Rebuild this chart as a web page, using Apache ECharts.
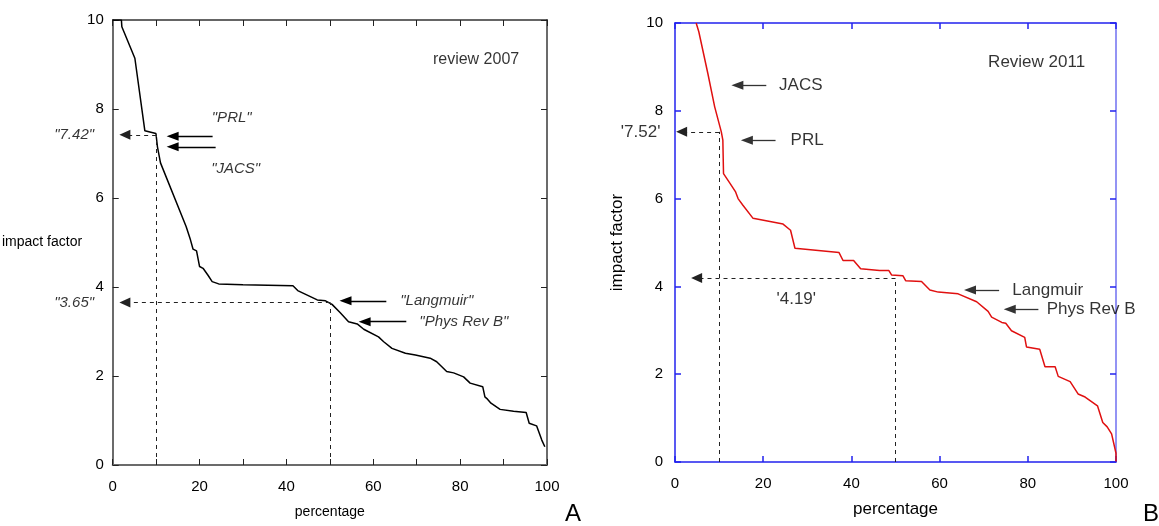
<!DOCTYPE html>
<html>
<head>
<meta charset="utf-8">
<script src="https://cdn.jsdelivr.net/npm/echarts@6/dist/echarts.min.js"></script>
<style>
  html, body { margin: 0; padding: 0; background: #fff; }
  #chart { width: 1159px; height: 526px; }
</style>
</head>
<body>
<div id="chart"></div>
<script>
// Review 2007: cumulative share of journals (percentage) against impact factor
const pct2007 = [0, 2.0, 2.1, 5.1, 7.4, 9.95, 10.3, 11.0, 16.9, 17.9, 18.5, 19.3, 20.0, 20.8, 21.9, 22.9, 24.4, 30.0,
  41.5, 42.6, 47.1, 49.0, 50.5, 52.4, 54.3, 56.3, 57.8, 61.2, 62.4, 64.3, 67.4, 69.7, 73.1, 74.6, 76.9, 78.5,
  80.8, 82.3, 85.2, 85.7, 86.3, 87.1, 89.2, 92.3, 95.2, 95.9, 97.6, 98.8, 99.5];
const if2007 = [10.0, 10.0, 9.85, 9.14, 7.51, 7.45, 7.15, 6.79, 5.36, 5.06, 4.85, 4.81, 4.46, 4.42, 4.27, 4.12, 4.07, 4.05,
  4.03, 3.92, 3.71, 3.69, 3.61, 3.42, 3.22, 3.17, 3.05, 2.88, 2.77, 2.62, 2.51, 2.47, 2.40, 2.32, 2.10, 2.07,
  1.98, 1.84, 1.76, 1.53, 1.48, 1.39, 1.25, 1.21, 1.18, 0.94, 0.88, 0.56, 0.41];

// Review 2011
const pct2011 = [4.8, 5.4, 7.45, 9.0, 10.5, 10.85, 11.0, 12.4, 13.7, 14.3, 15.4, 17.7, 24.5, 26.2, 27.2, 37.2, 38.1,
  40.5, 42.1, 46.4, 48.5, 49.1, 51.7, 52.3, 55.9, 57.8, 59.7, 64.2, 68.4, 71.0, 71.8, 74.1, 75.0, 76.3, 79.3,
  79.7, 82.7, 83.9, 86.2, 86.9, 89.6, 91.4, 93.0, 95.8, 97.0, 98.0, 99.0, 100, 100];
const if2011 = [10.0, 9.80, 8.85, 8.09, 7.52, 7.33, 6.57, 6.36, 6.16, 6.0, 5.85, 5.55, 5.42, 5.28, 4.87, 4.77, 4.59,
  4.59, 4.40, 4.36, 4.36, 4.26, 4.24, 4.13, 4.11, 3.92, 3.87, 3.83, 3.65, 3.43, 3.30, 3.18, 3.16, 2.99, 2.84,
  2.62, 2.57, 2.17, 2.17, 1.95, 1.83, 1.55, 1.48, 1.28, 0.90, 0.80, 0.64, 0.20, 0.01];

// Reference readings: percentile position and impact factor
const guidePct2007 = [10, 50];
const guideIF2007 = [7.42, 3.65];
const guideText2007 = ['"7.42"', '"3.65"'];
const guidePct2011 = [10, 50];
const guideIF2011 = [7.52, 4.19];
const guideText2011 = ["'7.52'", "'4.19'"];

// Journals marked on each curve
const journals2007 = ['"PRL"', '"JACS"', '"Langmuir"', '"Phys Rev B"'];
const journalIF2007 = [7.39, 7.15, 3.69, 3.22];
const journals2011 = ['JACS', 'PRL', 'Langmuir', 'Phys Rev B'];
const journalIF2011 = [8.58, 7.33, 3.92, 3.48];

const FONT = '"Liberation Sans", Arial, Helvetica, sans-serif';

// arrow geometry along the percentage axis: [head centre, tail]
const arrowSpan2007 = [[13.8, 23.0], [13.8, 23.7], [53.6, 63.0], [58.0, 67.6]];
const arrowSpan2011 = [[14.15, 20.7], [16.3, 22.8], [66.9, 73.5], [75.9, 82.4]];
const guideHead2007 = [2.8, 2.8];
const guideHead2011 = [1.5, 4.9];

function curve(xs, ys) { return xs.map((x, i) => [x, ys[i]]); }

function markLines(gPct, gIF, gHead, jIF, spans, arrowColor, headSize) {
  const dashed = { type: [4, 4], color: '#222', width: 1 };
  const out = [];
  gPct.forEach((p, i) => {
    out.push([{ coord: [p, 0], lineStyle: dashed }, { coord: [p, gIF[i]], lineStyle: dashed }]);
    out.push([{ coord: [p, gIF[i]], lineStyle: dashed },
              { coord: [gHead[i], gIF[i]], symbol: 'triangle', symbolSize: [10, 11], lineStyle: dashed }]);
  });
  const solid = { type: 'solid', color: arrowColor, width: 1.3 };
  jIF.forEach((v, i) => {
    out.push([{ coord: [spans[i][1], v], lineStyle: solid },
              { coord: [spans[i][0], v], symbol: 'triangle', symbolSize: headSize, lineStyle: solid }]);
  });
  return out;
}

function textPoint(x, y, text, align, size, italic) {
  return {
    value: [x, y],
    label: {
      show: true, formatter: text, position: 'inside', align: align, verticalAlign: 'middle',
      fontSize: size, fontStyle: italic ? 'italic' : 'normal', color: '#000', fontFamily: FONT
    }
  };
}

const texts2007 = [
  textPoint(-4.3, guideIF2007[0], guideText2007[0], 'right', 15, true),
  textPoint(-4.3, guideIF2007[1], guideText2007[1], 'right', 15, true),
  textPoint(27.4, 7.80, journals2007[0], 'center', 15, true),
  textPoint(28.3, 6.65, journals2007[1], 'center', 15, true),
  textPoint(66.2, journalIF2007[2], journals2007[2], 'left', 15, true),
  textPoint(70.6, journalIF2007[3], journals2007[3], 'left', 15, true),
  textPoint(93.6, 9.10, 'review 2007', 'right', 16, false)
];
const texts2011 = [
  textPoint(-3.3, guideIF2011[0], guideText2011[0], 'right', 17, false),
  textPoint(27.5, 3.71, guideText2011[1], 'center', 17, false),
  textPoint(23.6, journalIF2011[0], journals2011[0], 'left', 17, false),
  textPoint(26.2, journalIF2011[1], journals2011[1], 'left', 17, false),
  textPoint(76.5, journalIF2011[2], journals2011[2], 'left', 17, false),
  textPoint(84.3, journalIF2011[3], journals2011[3], 'left', 17, false),
  textPoint(93.0, 9.11, 'Review 2011', 'right', 17, false)
];

const leftAxisLine = { onZero: false, lineStyle: { color: '#6b6b6b', width: 2 } };
const rightAxisLine = { onZero: false, lineStyle: { color: '#2222ee', width: 1.5 } };
const leftTick = { show: true, inside: true, length: 6, lineStyle: { color: '#222', width: 1 } };
const rightTick = { show: true, inside: true, length: 6, lineStyle: { color: '#2222ee', width: 1.5 } };

const chart = echarts.init(document.getElementById('chart'), null, { renderer: 'canvas' });
chart.setOption({
  animation: false,
  backgroundColor: '#fff',
  grid: [
    { left: 112, top: 20, width: 435, height: 445 },
    { left: 675, top: 23, width: 441, height: 439 }
  ],
  xAxis: [
    { gridIndex: 0, type: 'value', min: 0, max: 100, interval: 10, position: 'bottom',
      axisLine: leftAxisLine, axisTick: leftTick, splitLine: { show: false },
      axisLabel: { margin: 14, fontSize: 15, color: '#000', fontFamily: FONT,
        formatter: v => (v % 20 === 0 ? String(v) : '') },
      name: 'percentage', nameLocation: 'middle', nameGap: 40,
      nameTextStyle: { fontSize: 14, color: '#000', fontFamily: FONT } },
    { gridIndex: 0, type: 'value', min: 0, max: 100, interval: 10, position: 'top',
      axisLine: { onZero: false, lineStyle: { color: '#333', width: 1.5 } }, axisTick: leftTick,
      axisLabel: { show: false }, splitLine: { show: false } },
    { gridIndex: 1, type: 'value', min: 0, max: 100, interval: 20, position: 'bottom',
      axisLine: rightAxisLine, axisTick: rightTick, splitLine: { show: false },
      axisLabel: { margin: 14, fontSize: 15, color: '#000', fontFamily: FONT },
      name: 'percentage', nameLocation: 'middle', nameGap: 39,
      nameTextStyle: { fontSize: 17, color: '#000', fontFamily: FONT } },
    { gridIndex: 1, type: 'value', min: 0, max: 100, interval: 20, position: 'top',
      axisLine: rightAxisLine, axisTick: rightTick,
      axisLabel: { show: false }, splitLine: { show: false } }
  ],
  yAxis: [
    { gridIndex: 0, type: 'value', min: 0, max: 10, interval: 2, position: 'left',
      axisLine: leftAxisLine, axisTick: leftTick, splitLine: { show: false },
      axisLabel: { margin: 9, fontSize: 15, color: '#000', fontFamily: FONT },
      name: 'impact factor', nameLocation: 'middle', nameRotate: 0, nameGap: 17,
      nameTextStyle: { fontSize: 14, color: '#000', fontFamily: FONT } },
    { gridIndex: 0, type: 'value', min: 0, max: 10, interval: 2, position: 'right',
      axisLine: leftAxisLine, axisTick: leftTick,
      axisLabel: { show: false }, splitLine: { show: false } },
    { gridIndex: 1, type: 'value', min: 0, max: 10, interval: 2, position: 'left',
      axisLine: rightAxisLine, axisTick: rightTick, splitLine: { show: false },
      axisLabel: { margin: 12, fontSize: 15, color: '#000', fontFamily: FONT },
      name: 'impact factor', nameLocation: 'middle', nameGap: 49,
      nameTextStyle: { fontSize: 17, color: '#000', fontFamily: FONT } },
    { gridIndex: 1, type: 'value', min: 0, max: 10, interval: 2, position: 'right',
      axisLine: { onZero: false, lineStyle: { color: '#6f6ff0', width: 1.5 } }, axisTick: rightTick,
      axisLabel: { show: false }, splitLine: { show: false } }
  ],
  series: [
    { name: 'review 2007', type: 'line', xAxisIndex: 0, yAxisIndex: 0,
      data: curve(pct2007, if2007), symbol: 'none', silent: true,
      lineStyle: { color: '#000', width: 1.5 },
      markLine: { silent: true, animation: false, symbol: 'none', label: { show: false },
        emphasis: { disabled: true },
        data: markLines(guidePct2007, guideIF2007, guideHead2007, journalIF2007, arrowSpan2007, '#000', [9, 12]) } },
    { name: 'labels 2007', type: 'scatter', xAxisIndex: 0, yAxisIndex: 0, clip: false, silent: true,
      symbolSize: 1, itemStyle: { color: 'rgba(0,0,0,0)' }, data: texts2007 },
    { name: 'Review 2011', type: 'line', xAxisIndex: 2, yAxisIndex: 2,
      data: curve(pct2011, if2011), symbol: 'none', silent: true,
      lineStyle: { color: '#e01010', width: 1.5 },
      markLine: { silent: true, animation: false, symbol: 'none', label: { show: false },
        emphasis: { disabled: true },
        data: markLines(guidePct2011, guideIF2011, guideHead2011, journalIF2011, arrowSpan2011, '#333', [9, 12]) } },
    { name: 'labels 2011', type: 'scatter', xAxisIndex: 2, yAxisIndex: 2, clip: false, silent: true,
      symbolSize: 1, itemStyle: { color: 'rgba(0,0,0,0)' }, data: texts2011 }
  ],
  graphic: [
    { type: 'text', left: 565, top: 502, style: { text: 'A', fontSize: 24, fill: '#000', fontFamily: FONT } },
    { type: 'text', left: 1143, top: 502, style: { text: 'B', fontSize: 24, fill: '#000', fontFamily: FONT } }
  ]
});
</script>
</body>
</html>
